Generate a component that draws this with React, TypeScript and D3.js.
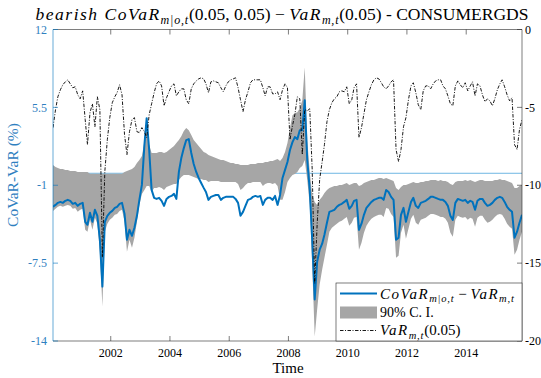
import React from "react";
import * as d3 from "d3";

// Monthly observations, first one on 20 Jan 2000
const START = new Date(2000, 0, 20);

// CoVaR(m|o,t) - VaR(m,t), in percent (left axis)
const covarDiff = [
  -2.80, -2.64, -2.47, -2.39, -2.47, -2.30, -2.22, -2.30, -2.55, -2.47,
  -2.72, -2.55, -2.47, -4.05, -4.30, -3.30, -4.05, -3.05, -3.55, -5.55,
  -9.46, -4.05, -3.55, -3.30, -3.14, -2.89, -2.80, -2.55, -2.47, -3.39,
  -5.55, -4.72, -5.22, -4.55, -3.55, -2.22, -0.97, 2.35, 4.60, 1.94,
  -1.39, -2.05, -2.14, -2.05, -2.30, -2.72, -2.14, -1.97, -1.89, -1.72,
  -2.14, 0.11, 1.27, 2.10, 2.77, 2.85, 1.69, 0.77, 0.11, -0.39,
  -0.81, -1.22, -1.56, -2.22, -1.97, -1.89, -1.81, -1.81, -2.22, -2.05,
  -1.97, -1.97, -1.97, -1.97, -2.14, -2.47, -3.55, -3.22, -2.72, -2.22,
  -2.14, -1.97, -1.89, -1.97, -1.89, -2.64, -2.22, -2.05, -2.05, -2.22,
  -1.89, -2.64, -1.81, -0.39, 0.28, 0.94, 1.94, 2.60, 3.02, 2.85,
  3.60, 3.60, 6.10, 1.11, -1.39, -5.55, -10.54, -7.38, -6.38, -5.88,
  -5.13, -4.13, -3.22, -3.14, -3.05, -2.80, -2.64, -2.55, -2.39, -2.22,
  -2.97, -2.72, -2.30, -2.22, -4.72, -4.21, -3.47, -2.89, -2.64, -2.39,
  -2.22, -2.14, -2.05, -2.05, -2.22, -1.39, -1.56, -1.97, -2.22, -5.55,
  -5.38, -3.47, -2.89, -4.05, -3.22, -2.39, -2.05, -2.72, -2.89, -2.47,
  -2.39, -2.30, -2.14, -1.97, -1.97, -2.05, -2.14, -2.22, -2.22, -2.39,
  -2.72, -3.55, -3.89, -2.47, -2.14, -2.22, -2.30, -2.22, -2.47, -2.30,
  -2.39, -3.05, -2.30, -2.14, -2.14, -2.47, -2.72, -2.64, -2.47, -2.22,
  -2.05, -1.97, -2.05, -2.39, -2.80, -3.05, -3.22, -5.38, -4.88, -4.13,
  -3.47,
];

// 90% confidence interval, upper bound
const ciUpper = [
  0.69, 0.52, 0.44, 0.36, 0.36, 0.28, 0.28, 0.19, 0.19, 0.19,
  0.11, 0.11, 0.11, 0.11, 0.11, -0.05, -0.05, -0.05, -0.05, -0.05,
  -0.05, -0.05, -0.05, -0.05, -0.05, -0.05, -0.05, -0.05, -0.03, 0.11,
  0.19, 0.28, 0.36, 0.52, 0.86, 1.11, 1.44, 2.60, 3.35, 2.35,
  1.69, 1.69, 1.69, 1.77, 1.77, 1.69, 1.77, 1.94, 2.10, 2.27,
  2.52, 2.77, 3.10, 3.52, 3.77, 3.60, 3.19, 2.77, 2.52, 2.27,
  2.02, 1.77, 1.69, 1.52, 1.44, 1.36, 1.27, 1.19, 1.11, 1.11,
  1.02, 0.94, 0.86, 0.86, 0.77, 0.77, 0.69, 0.69, 0.69, 0.69,
  0.77, 0.77, 0.77, 0.86, 0.86, 0.86, 0.94, 0.94, 1.02, 1.02,
  1.11, 1.19, 1.02, 1.27, 1.77, 2.52, 3.77, 4.85, 5.02, 5.10,
  5.43, 6.10, 8.84, 2.77, 0.11, -1.81, -2.39, -2.64, -2.22, -1.97,
  -1.64, -1.39, -1.22, -1.14, -1.06, -1.06, -0.97, -0.97, -0.89, -0.81,
  -0.97, -0.89, -0.81, -0.81, -1.06, -0.97, -0.81, -0.72, -0.64, -0.56,
  -0.56, -0.47, -0.39, -0.39, -0.47, -0.39, -0.47, -0.56, -0.64, -1.22,
  -1.39, -1.14, -0.97, -0.97, -0.89, -0.81, -0.72, -0.81, -0.81, -0.72,
  -0.72, -0.64, -0.64, -0.56, -0.56, -0.56, -0.64, -0.56, -0.64, -0.64,
  -0.72, -0.89, -0.97, -0.72, -0.64, -0.64, -0.64, -0.56, -0.64, -0.56,
  -0.64, -0.72, -0.64, -0.56, -0.56, -0.64, -0.64, -0.64, -0.64, -0.56,
  -0.56, -0.47, -0.56, -0.56, -0.64, -0.72, -0.81, -1.22, -1.22, -1.06,
  -0.97,
];

// 90% confidence interval, lower bound
const ciLower = [
  -3.14, -2.97, -2.80, -2.72, -2.80, -2.72, -2.64, -2.72, -2.97, -2.89,
  -3.22, -3.05, -2.97, -4.72, -4.88, -3.89, -4.72, -3.72, -4.21, -6.55,
  -11.12, -4.88, -4.21, -3.89, -3.72, -3.47, -3.39, -3.14, -3.05, -4.05,
  -6.55, -5.55, -6.21, -5.38, -4.05, -2.64, -1.72, -1.39, -1.06, -1.06,
  -1.56, -1.22, -1.22, -1.14, -1.22, -1.39, -1.14, -1.06, -0.97, -0.89,
  -0.89, -0.56, -0.31, -0.14, -0.14, -0.14, -0.22, -0.31, -0.39, -0.47,
  -0.47, -0.56, -0.56, -0.72, -0.64, -0.64, -0.64, -0.64, -0.72, -0.72,
  -0.72, -0.72, -0.72, -0.72, -0.72, -0.89, -1.39, -1.22, -0.97, -0.81,
  -0.81, -0.72, -0.72, -0.72, -0.72, -1.06, -0.89, -0.81, -0.81, -0.89,
  -0.81, -1.06, -2.22, -2.22, -1.56, -0.72, -0.39, -0.14, -0.06, 0.11,
  0.44, 0.61, 1.11, -0.56, -2.64, -7.63, -13.62, -11.37, -9.29, -8.04,
  -7.05, -5.97, -4.88, -4.55, -4.38, -4.21, -4.05, -3.97, -3.80, -3.64,
  -4.38, -4.13, -3.72, -3.64, -6.38, -5.80, -4.97, -4.38, -4.05, -3.80,
  -3.64, -3.55, -3.47, -3.47, -3.64, -2.89, -2.97, -3.39, -3.64, -7.05,
  -6.88, -4.97, -4.30, -5.47, -4.63, -3.80, -3.47, -4.13, -4.30, -3.89,
  -3.80, -3.72, -3.55, -3.39, -3.39, -3.47, -3.55, -3.64, -3.64, -3.80,
  -4.13, -4.97, -5.30, -3.89, -3.55, -3.64, -3.72, -3.64, -3.89, -3.72,
  -3.80, -4.47, -3.72, -3.55, -3.55, -3.89, -4.13, -4.05, -3.89, -3.64,
  -3.47, -3.39, -3.47, -3.80, -4.21, -4.47, -4.63, -6.80, -6.38, -5.55,
  -4.88,
];

// VaR(m,t)(0.05), right axis
const varM = [
  -6.30, -5.15, -4.32, -3.87, -3.55, -3.36, -3.23, -3.49, -3.74, -3.68,
  -4.19, -4.45, -3.94, -5.79, -7.39, -5.34, -4.77, -6.24, -4.32, -5.15,
  -14.62, -9.12, -7.07, -5.66, -4.70, -4.32, -4.06, -3.55, -4.19, -6.75,
  -8.03, -6.56, -5.79, -5.66, -6.56, -6.62, -6.30, -6.56, -6.94, -5.47,
  -4.77, -4.06, -3.49, -3.30, -3.62, -4.90, -4.38, -4.00, -3.62, -3.49,
  -4.26, -4.00, -3.81, -3.81, -4.51, -4.77, -3.81, -3.49, -3.30, -3.17,
  -3.10, -3.17, -3.49, -4.06, -3.36, -3.30, -3.36, -3.42, -3.74, -4.00,
  -3.62, -3.36, -3.23, -3.17, -3.10, -3.74, -4.51, -5.28, -4.51, -4.00,
  -3.42, -3.23, -3.23, -3.23, -3.23, -3.74, -4.26, -3.68, -3.68, -4.13,
  -4.13, -4.00, -4.51, -3.87, -3.49, -3.74, -7.07, -6.18, -5.47, -4.32,
  -4.45, -8.03, -5.15, -5.22, -5.09, -8.99, -16.30, -12.51, -9.63, -8.48,
  -7.39, -5.92, -5.15, -4.70, -4.45, -4.32, -4.00, -3.94, -4.00, -3.68,
  -4.77, -4.51, -3.74, -3.49, -6.94, -6.30, -5.41, -4.51, -4.00, -3.55,
  -3.23, -3.10, -3.17, -3.42, -3.68, -3.81, -3.62, -3.36, -3.23, -7.71,
  -8.48, -7.71, -6.24, -5.66, -4.51, -3.62, -3.42, -4.06, -4.83, -5.15,
  -3.94, -3.62, -3.62, -3.81, -3.49, -3.30, -3.23, -3.23, -3.62, -3.81,
  -4.26, -4.77, -4.90, -3.62, -3.30, -3.55, -3.74, -3.42, -3.94, -3.62,
  -3.36, -4.26, -3.49, -3.62, -4.19, -4.64, -4.45, -4.58, -4.90, -4.45,
  -3.87, -3.49, -3.23, -3.68, -4.19, -4.58, -4.38, -7.39, -7.71, -6.43,
  -5.79,
];

const yearTicks = [2002, 2004, 2006, 2008, 2010, 2012, 2014];
const leftTicks = [-14, -7.5, -1, 5.5, 12];
const rightTicks = [-20, -15, -10, -5, 0];

const BLUE = "#0072BD";
const AXIS = "#262626";
const GRAY = "#a6a6a6";
const FONT = "Liberation Serif, DejaVu Serif, serif";
const DASH_DOT = "3.5 1.5 1 1.5";

// spacing used for math-italic symbols, which set wider than text italic
const MATH = { fontStyle: "italic", letterSpacing: 1.5 } as const;
const SUB = { fontStyle: "italic", letterSpacing: 0.8 } as const;

export default function App() {
  const W = 541;
  const H = 378;
  const L = 53;
  const R = 522;
  const T = 29.5;
  const B = 341;

  const dates = covarDiff.map((_, i) => d3.timeMonth.offset(START, i));
  const x = d3.scaleTime().domain([dates[0], dates[dates.length - 1]]).range([L, R]);
  const yL = d3.scaleLinear().domain([-14, 12]).range([B, T]);
  const yR = d3.scaleLinear().domain([-20, 0]).range([B, T]);

  const band = d3
    .area<number>()
    .x((_, i) => x(dates[i]))
    .y0((_, i) => yL(ciLower[i]))
    .y1((d) => yL(d))(ciUpper) as string;
  const covarLine = d3
    .line<number>()
    .x((_, i) => x(dates[i]))
    .y((d) => yL(d))(covarDiff) as string;
  const varLine = d3
    .line<number>()
    .x((_, i) => x(dates[i]))
    .y((d) => yR(d))(varM) as string;

  const tickLen = 5;
  const legX = 336;
  const legY = 283;
  const textStyle = { fontFamily: FONT };

  return (
    <svg
      width={W}
      height={H}
      style={{ position: "absolute", left: 0, top: 0, background: "#fff" }}
    >
      <defs>
        <clipPath id="plot-clip">
          <rect x={L} y={T} width={R - L} height={B - T} />
        </clipPath>
      </defs>

      {/* title */}
      <text x={282} y={20} fontSize={17.5} textAnchor="middle" fill="#000" style={textStyle}>
        <tspan style={MATH}>bearish CoVaR</tspan>
        <tspan style={SUB} fontSize={12} dy={4}>m|o,t</tspan>
        <tspan dy={-4}>(0.05, 0.05) − </tspan>
        <tspan style={MATH}>VaR</tspan>
        <tspan style={SUB} fontSize={12} dy={4}>m,t</tspan>
        <tspan dy={-4}>(0.05) - CONSUMERGDS</tspan>
      </text>

      <g clipPath="url(#plot-clip)">
        <line x1={L} x2={R} y1={yL(0)} y2={yL(0)} stroke="#4aa3dc" strokeWidth={0.8} />
        <path d={band} fill={GRAY} stroke="none" />
        <path d={covarLine} fill="none" stroke={BLUE} strokeWidth={2} strokeLinejoin="round" />
        <path d={varLine} fill="none" stroke="#000" strokeWidth={0.9} strokeDasharray={DASH_DOT} />
      </g>

      {/* frame */}
      <line x1={L} x2={R} y1={T} y2={T} stroke={AXIS} strokeWidth={0.6} />
      <line x1={L} x2={R} y1={B} y2={B} stroke={AXIS} strokeWidth={0.6} />
      <line x1={L} x2={L} y1={T} y2={B} stroke={BLUE} strokeWidth={0.6} />
      <line x1={R} x2={R} y1={T} y2={B} stroke={AXIS} strokeWidth={0.6} />

      {/* x ticks */}
      {yearTicks.map((yr) => {
        const px = x(new Date(yr, 0, 1));
        return (
          <g key={yr}>
            <line x1={px} x2={px} y1={B} y2={B - tickLen} stroke={AXIS} strokeWidth={0.6} />
            <line x1={px} x2={px} y1={T} y2={T + tickLen} stroke={AXIS} strokeWidth={0.6} />
            <text x={px} y={357} fontSize={12} textAnchor="middle" fill="#000" style={textStyle}>
              {yr}
            </text>
          </g>
        );
      })}

      {/* left axis */}
      {leftTicks.map((v) => (
        <g key={v}>
          <line x1={L} x2={L + tickLen} y1={yL(v)} y2={yL(v)} stroke={BLUE} strokeWidth={0.6} />
          <text
            x={L - 6}
            y={yL(v)}
            dy="0.35em"
            fontSize={12}
            textAnchor="end"
            fill="#2f80c0"
            style={textStyle}
          >
            {v}
          </text>
        </g>
      ))}
      <text
        transform={`translate(18, 175) rotate(-90)`}
        fontSize={15.5}
        textAnchor="middle"
        fill="#2f80c0"
        style={textStyle}
      >
        CoVaR-VaR (%)
      </text>

      {/* right axis */}
      {rightTicks.map((v) => (
        <g key={v}>
          <line x1={R} x2={R - tickLen} y1={yR(v)} y2={yR(v)} stroke={AXIS} strokeWidth={0.6} />
          <text
            x={R + 3}
            y={yR(v)}
            dy="0.35em"
            fontSize={12}
            textAnchor="start"
            fill="#000"
            style={textStyle}
          >
            {v}
          </text>
        </g>
      ))}

      <text x={288} y={373} fontSize={15} textAnchor="middle" fill="#000" style={textStyle}>
        Time
      </text>

      {/* legend */}
      <rect
        x={legX}
        y={legY}
        width={R - legX}
        height={B - legY}
        fill="#fff"
        stroke={AXIS}
        strokeWidth={0.6}
      />
      <line x1={340} x2={377} y1={293.5} y2={293.5} stroke={BLUE} strokeWidth={2} />
      <text x={380} y={298.5} fontSize={15} fill="#000" style={textStyle}>
        <tspan style={MATH}>CoVaR</tspan>
        <tspan style={SUB} fontSize={10.5} dy={3.5}>m|o,t</tspan>
        <tspan dy={-3.5}> − </tspan>
        <tspan style={MATH}>VaR</tspan>
        <tspan style={SUB} fontSize={10.5} dy={3.5}>m,t</tspan>
      </text>
      <rect x={340} y={306.5} width={37} height={12} fill={GRAY} />
      <text x={380} y={317} fontSize={14} fill="#000" style={textStyle}>
        90% C. I.
      </text>
      <line
        x1={340}
        x2={377}
        y1={330.5}
        y2={330.5}
        stroke="#000"
        strokeWidth={0.9}
        strokeDasharray={DASH_DOT}
      />
      <text x={380} y={335} fontSize={15} fill="#000" style={textStyle}>
        <tspan style={MATH}>VaR</tspan>
        <tspan style={SUB} fontSize={10.5} dy={3.5}>m,t</tspan>
        <tspan dy={-3.5}>(0.05)</tspan>
      </text>
    </svg>
  );
}
